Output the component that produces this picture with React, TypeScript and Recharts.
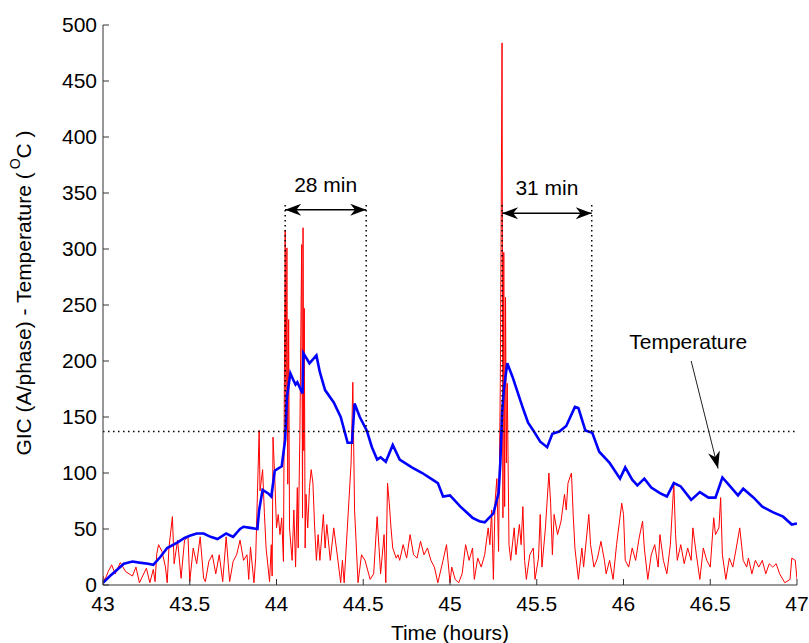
import React from "react";
import { LineChart, Line, XAxis, YAxis, ReferenceLine, Label } from "recharts";

// axis ticks
const timeTicks = [43, 43.5, 44, 44.5, 45, 45.5, 46, 46.5, 47];
const valueTicks = [0, 50, 100, 150, 200, 250, 300, 350, 400, 450, 500];

// GIC (A/phase), red trace
const gicTime = [
  43.0, 43.01, 43.03, 43.05, 43.07, 43.1, 43.13, 43.17, 43.19, 43.21, 43.25, 43.27, 43.29, 43.3,
  43.31, 43.32, 43.34, 43.36, 43.37, 43.38, 43.4, 43.41, 43.43, 43.45, 43.47, 43.49, 43.5, 43.52,
  43.54, 43.56, 43.58, 43.59, 43.61, 43.63, 43.65, 43.67, 43.69, 43.71, 43.73, 43.75, 43.77, 43.79,
  43.81, 43.83, 43.84, 43.85, 43.87, 43.88, 43.9, 43.905, 43.92, 43.93, 43.94, 43.96, 43.97, 43.975,
  43.98, 43.99, 44.0, 44.01, 44.02, 44.03, 44.04, 44.05, 44.055, 44.06, 44.065, 44.07, 44.075, 44.09,
  44.1, 44.11, 44.12, 44.125, 44.135, 44.145, 44.15, 44.153, 44.157, 44.16, 44.165, 44.17, 44.18,
  44.19, 44.2, 44.21, 44.22, 44.23, 44.24, 44.25, 44.27, 44.28, 44.29, 44.31, 44.33, 44.35, 44.37,
  44.38, 44.39, 44.43, 44.44, 44.45, 44.47, 44.49, 44.51, 44.54, 44.56, 44.58, 44.6, 44.62, 44.63,
  44.64, 44.65, 44.66, 44.67, 44.69, 44.7, 44.71, 44.73, 44.75, 44.77, 44.79, 44.81, 44.83, 44.85,
  44.87, 44.89, 44.91, 44.93, 44.96, 44.98, 45.0, 45.01, 45.03, 45.05, 45.07, 45.09, 45.11, 45.13,
  45.14, 45.16, 45.18, 45.2, 45.22, 45.23, 45.24, 45.25, 45.26, 45.27, 45.28, 45.29, 45.295, 45.3,
  45.305, 45.31, 45.315, 45.32, 45.325, 45.33, 45.34, 45.35, 45.37, 45.38, 45.4, 45.41, 45.42, 45.43,
  45.44, 45.46, 45.48, 45.49, 45.51, 45.52, 45.53, 45.55, 45.57, 45.58, 45.59, 45.6, 45.62, 45.64,
  45.66, 45.67, 45.68, 45.7, 45.71, 45.72, 45.74, 45.76, 45.77, 45.8, 45.81, 45.83, 45.85, 45.87,
  45.89, 45.9, 45.92, 45.94, 45.96, 45.99, 46.0, 46.01, 46.03, 46.05, 46.07, 46.09, 46.11, 46.12,
  46.14, 46.16, 46.18, 46.2, 46.21, 46.23, 46.25, 46.27, 46.29, 46.3, 46.31, 46.33, 46.35, 46.37,
  46.39, 46.4, 46.42, 46.44, 46.46, 46.48, 46.5, 46.52, 46.53, 46.55, 46.56, 46.57, 46.59, 46.61,
  46.63, 46.65, 46.67, 46.69, 46.71, 46.72, 46.74, 46.76, 46.78, 46.8, 46.82, 46.84, 46.86, 46.88,
  46.9, 46.93, 46.96, 46.97, 46.99, 47.0,
];
const gicValue = [
  8, 4, 12, 18, 10, 20, 12, 8, 16, 2, 15, 2, 14, 3,
  28, 36, 30, 16, 2, 33, 61, 19, 40, 6, 40, 43, 3, 33,
  19, 43, 6, 3, 21, 27, 10, 27, 3, 43, 3, 21, 27, 40,
  22, 27, 5, 34, 2, 24, 138, 84, 103, 65, 33, 3, 36, 8,
  132, 96, 51, 63, 45, 60, 21, 317, 140, 301, 90, 237, 51, 22,
  67, 16, 87, 33, 138, 304, 60, 319, 120, 247, 33, 81, 51,
  87, 103, 91, 51, 22, 45, 22, 63, 33, 54, 22, 51, 27, 2,
  22, 2, 109, 181, 67, 2, 27, 22, 5, 10, 61, 10, 45, 2,
  91, 73, 51, 33, 24, 27, 22, 36, 24, 45, 27, 24, 39, 27,
  33, 22, 16, 2, 22, 36, 2, 16, 5, 2, 10, 36, 22, 33,
  5, 24, 16, 27, 51, 36, 67, 5, 75, 95, 30, 180, 329, 484,
  60, 297, 70, 257, 109, 180, 36, 22, 51, 27, 54, 36, 70, 22,
  5, 27, 33, 5, 24, 63, 16, 51, 100, 73, 27, 63, 45, 57,
  81, 67, 91, 100, 63, 33, 5, 33, 16, 63, 36, 16, 24, 39,
  22, 10, 22, 5, 36, 73, 63, 22, 16, 33, 22, 42, 57, 33,
  5, 27, 36, 16, 45, 22, 10, 36, 91, 45, 22, 36, 19, 33,
  22, 51, 27, 5, 33, 22, 16, 60, 45, 51, 78, 27, 5, 24,
  16, 33, 51, 22, 16, 24, 10, 22, 16, 22, 10, 19, 16, 19,
  10, 2, 5, 24, 22, 5,
];

// Temperature (deg C), blue trace
const tempTime = [
  43.0, 43.04, 43.07, 43.12, 43.17, 43.21, 43.26, 43.29, 43.33, 43.37, 43.43, 43.47, 43.5, 43.54,
  43.58, 43.62, 43.66, 43.71, 43.75, 43.79, 43.81, 43.85, 43.89, 43.9, 43.92, 43.95, 43.97, 43.99,
  44.03, 44.05, 44.06, 44.08, 44.1, 44.11, 44.12, 44.15, 44.155, 44.19, 44.23, 44.25, 44.28, 44.33,
  44.37, 44.41, 44.435, 44.45, 44.48, 44.52, 44.55, 44.58, 44.6, 44.63, 44.67, 44.71, 44.78, 44.84,
  44.89, 44.93, 44.96, 45.0, 45.06, 45.13, 45.17, 45.2, 45.25, 45.28, 45.29, 45.3, 45.31, 45.33,
  45.36, 45.39, 45.42, 45.45, 45.48, 45.52, 45.56, 45.59, 45.63, 45.67, 45.72, 45.74, 45.78, 45.82,
  45.86, 45.92, 45.98, 46.01, 46.05, 46.08, 46.12, 46.16, 46.21, 46.25, 46.29, 46.33, 46.39, 46.44,
  46.49, 46.53, 46.57, 46.61, 46.66, 46.69, 46.75, 46.8, 46.86, 46.92, 46.97, 47.0,
];
const tempValue = [
  2, 8, 12, 19, 21, 20, 19, 18, 25, 33, 38, 42, 44, 46,
  46, 43, 41, 46, 43, 50, 52, 51, 50, 67, 85, 82, 79, 102,
  106, 130, 168, 189, 182, 179, 181, 171, 207, 198, 205, 190, 174, 163,
  150, 127, 127, 162, 150, 138, 123, 112, 114, 110, 125, 112, 105, 100,
  95, 91, 79, 80, 70, 60, 57, 56, 64, 82, 109, 153, 174, 198,
  186, 172, 158, 145, 138, 128, 123, 135, 137, 142, 159, 158, 138, 136,
  119, 109, 95, 105, 94, 89, 95, 87, 82, 79, 91, 88, 76, 83,
  78, 78, 96, 89, 80, 86, 78, 70, 65, 61, 54, 55,
];

const threshold = 137;
const intervals = [
  { start: 44.05, end: 44.517, top: 342, arrowAt: 335, label: "28 min" },
  { start: 45.3, end: 45.817, top: 340, arrowAt: 332, label: "31 min" },
];
const tempNote = { from: { x: 46.39, y: 200 }, to: { x: 46.545, y: 104 }, label: "Temperature" };

const gicData = gicTime.map((t, i) => ({ t, v: gicValue[i] }));
const tempData = tempTime.map((t, i) => ({ t, v: tempValue[i] }));

const FONT = "'Liberation Sans', Arial, sans-serif";
const AXIS = "#333";
const dotted = { stroke: "#000", strokeWidth: 1.5, strokeDasharray: "1.5 3.5" };

function head(tx: number, ty: number, ux: number, uy: number, len: number, half: number) {
  // barbed arrow head pointing along (ux, uy), tip at (tx, ty)
  const bx = tx - ux * len;
  const by = ty - uy * len;
  const nx = -uy;
  const ny = ux;
  const mx = tx - ux * len * 0.7;
  const my = ty - uy * len * 0.7;
  return `${tx},${ty} ${bx + nx * half},${by + ny * half} ${mx},${my} ${bx - nx * half},${by - ny * half}`;
}

function doubleArrow(p: any, label: string) {
  const { x1, y1, x2, y2 } = p;
  const dx = x2 - x1;
  const dy = y2 - y1;
  const d = Math.hypot(dx, dy) || 1;
  const ux = dx / d;
  const uy = dy / d;
  return (
    <g>
      <line x1={x1} y1={y1} x2={x2} y2={y2} stroke="#000" strokeWidth={1.5} />
      <polygon points={head(x2, y2, ux, uy, 16, 6)} fill="#000" />
      <polygon points={head(x1, y1, -ux, -uy, 16, 6)} fill="#000" />
      <text x={(x1 + x2) / 2} y={y1 - 18} textAnchor="middle" fontSize={21} fontFamily={FONT} fill="#000">
        {label}
      </text>
    </g>
  );
}

function noteArrow(p: any, label: string) {
  const { x1, y1, x2, y2 } = p;
  const dx = x2 - x1;
  const dy = y2 - y1;
  const d = Math.hypot(dx, dy) || 1;
  const ux = dx / d;
  const uy = dy / d;
  return (
    <g>
      <line x1={x1} y1={y1} x2={x2} y2={y2} stroke="#222" strokeWidth={1} />
      <polygon points={head(x2, y2, ux, uy, 17, 6)} fill="#000" />
      <text x={x1 - 3} y={y1 - 12} textAnchor="middle" fontSize={21} fontFamily={FONT} fill="#000">
        {label}
      </text>
    </g>
  );
}

function YTitle(props: any) {
  const vb = props.viewBox || { x: 0, y: 25, width: 103, height: 560 };
  const cx = 23;
  const cy = vb.y + vb.height / 2 - 12;
  return (
    <text
      x={cx}
      y={cy}
      transform={`rotate(-90, ${cx}, ${cy})`}
      textAnchor="middle"
      dominantBaseline="central"
      fontSize={21}
      fontFamily={FONT}
      fill="#000"
    >
      GIC (A/phase) - Temperature (
      <tspan dx={3} dy={-8} fontSize={14}>O</tspan>
      <tspan dy={8}>C )</tspan>
    </text>
  );
}

export default function App() {
  return (
    <div style={{ position: "absolute", left: 0, top: 0, background: "#fff", fontFamily: FONT }}>
      <LineChart width={809} height={643} margin={{ top: 25, right: 12, bottom: 0, left: 0 }}>
        <XAxis
          dataKey="t"
          type="number"
          domain={[43, 47]}
          ticks={timeTicks}
          allowDataOverflow
          height={58}
          stroke={AXIS}
          tickSize={-6}
          tickMargin={17}
          tick={{ fill: "#000", fontSize: 21, fontFamily: FONT }}
          label={{ value: "Time (hours)", position: "insideBottom", offset: 3, fill: "#000", fontSize: 21, fontFamily: FONT }}
        />
        <XAxis
          xAxisId="top"
          orientation="top"
          type="number"
          domain={[43, 47]}
          ticks={timeTicks}
          height={0}
          stroke={AXIS}
          tickSize={-6}
          tickFormatter={() => ""}
        />
        <YAxis
          type="number"
          domain={[0, 500]}
          ticks={valueTicks}
          width={103}
          stroke={AXIS}
          tickSize={-6}
          tickMargin={12}
          tick={{ fill: "#000", fontSize: 21, fontFamily: FONT }}
        >
          <Label content={YTitle} />
        </YAxis>
        <YAxis
          yAxisId="right"
          orientation="right"
          type="number"
          domain={[0, 500]}
          ticks={valueTicks}
          width={0}
          stroke={AXIS}
          tickSize={-6}
          tickFormatter={() => ""}
        />

        <Line
          data={gicData}
          dataKey="v"
          stroke="#ff0000"
          strokeWidth={1}
          dot={false}
          activeDot={false}
          type="linear"
          isAnimationActive={false}
        />
        <Line
          data={tempData}
          dataKey="v"
          stroke="#0000ff"
          strokeWidth={2.6}
          dot={false}
          activeDot={false}
          type="linear"
          isAnimationActive={false}
        />

        <ReferenceLine y={threshold} {...dotted} />
        {intervals.flatMap((iv) => [
          <ReferenceLine
            key={iv.label + "a"}
            segment={[{ x: iv.start, y: threshold }, { x: iv.start, y: iv.top }]}
            {...dotted}
          />,
          <ReferenceLine
            key={iv.label + "b"}
            segment={[{ x: iv.end, y: threshold }, { x: iv.end, y: iv.top }]}
            {...dotted}
          />,
          <ReferenceLine
            key={iv.label + "c"}
            segment={[{ x: iv.start, y: iv.arrowAt }, { x: iv.end, y: iv.arrowAt }]}
            shape={(p: any) => doubleArrow(p, iv.label)}
          />,
        ])}
        <ReferenceLine
          segment={[tempNote.from, tempNote.to]}
          shape={(p: any) => noteArrow(p, tempNote.label)}
        />
      </LineChart>
    </div>
  );
}
